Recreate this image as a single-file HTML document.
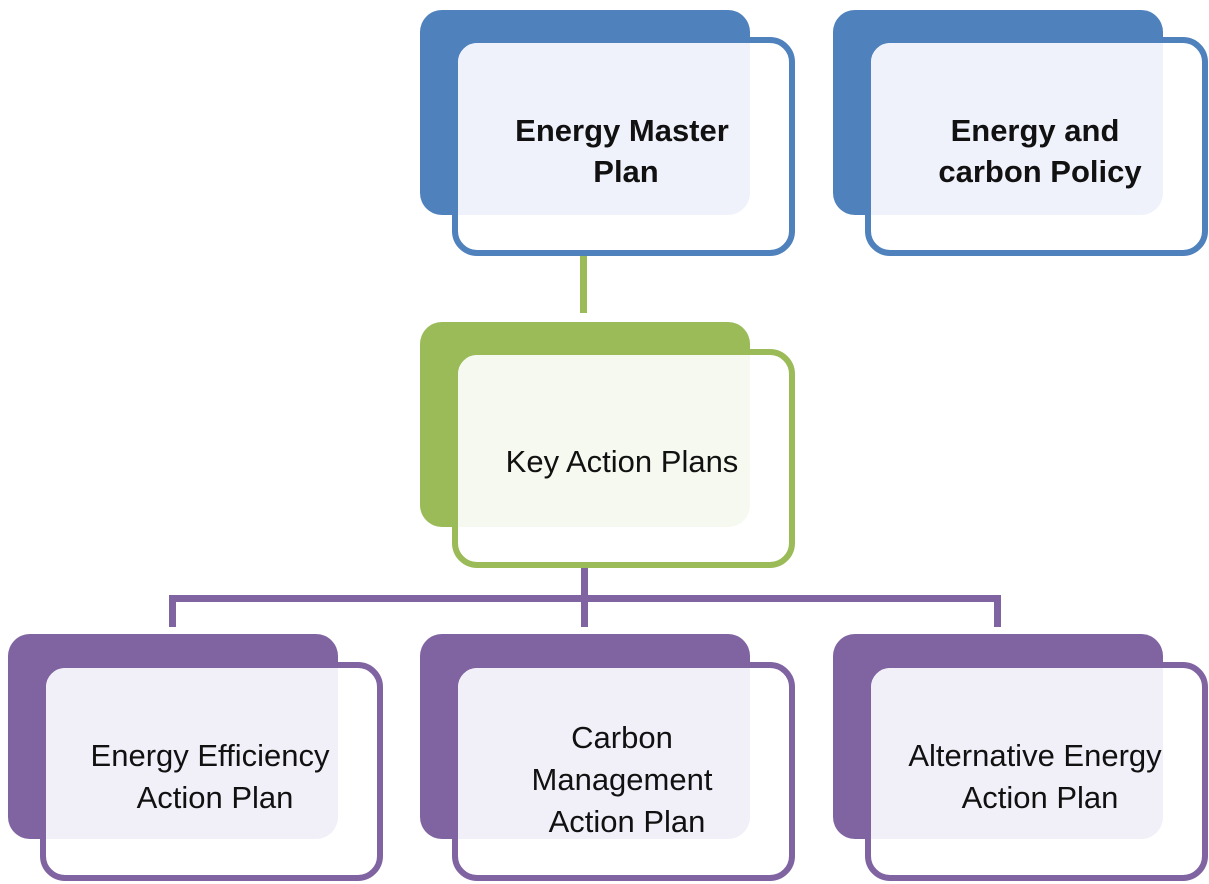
<!DOCTYPE html>
<html><head><meta charset="utf-8"><style>html,body{margin:0;padding:0;background:#fff}svg{display:block}</style></head><body>
<svg width="1209" height="884" viewBox="0 0 1209 884" xmlns="http://www.w3.org/2000/svg" font-family="Liberation Sans, Arial, sans-serif">
<!-- connectors -->
<rect x="580" y="225" width="7" height="28" fill="#f5f8ee"/>
<rect x="580" y="253" width="7" height="60" fill="#9bbb59"/>
<rect x="581" y="537" width="7" height="28" fill="#efecf5"/>
<rect x="581" y="565" width="7" height="62" fill="#8064a2"/>
<rect x="169" y="595" width="831" height="7" fill="#8064a2"/>
<rect x="169" y="595" width="7" height="32" fill="#8064a2"/>
<rect x="994" y="595" width="7" height="32" fill="#8064a2"/>

<!-- node template: back, front white+stroke, tint -->
<g id="n1">
<rect x="420" y="10" width="330" height="205" rx="22" fill="#4f81bd"/>
<rect x="455" y="40" width="337" height="213" rx="22" fill="#fff" stroke="#4f81bd" stroke-width="6"/>
<path d="M478 43 H750 V193 A22 22 0 0 1 728 215 H458 V63 A20 20 0 0 1 478 43 Z" fill="#eff2fb"/>
</g>
<g>
<rect x="833" y="10" width="330" height="205" rx="22" fill="#4f81bd"/>
<rect x="868" y="40" width="337" height="213" rx="22" fill="#fff" stroke="#4f81bd" stroke-width="6"/>
<path d="M891 43 H1163 V193 A22 22 0 0 1 1141 215 H871 V63 A20 20 0 0 1 891 43 Z" fill="#eff2fb"/>
</g>
<g>
<rect x="420" y="322" width="330" height="205" rx="22" fill="#9bbb59"/>
<rect x="455" y="352" width="337" height="213" rx="22" fill="#fff" stroke="#9bbb59" stroke-width="6"/>
<path d="M478 355 H750 V505 A22 22 0 0 1 728 527 H458 V375 A20 20 0 0 1 478 355 Z" fill="#f6f9f0"/>
</g>
<g>
<rect x="8" y="634" width="330" height="205" rx="22" fill="#8064a2"/>
<rect x="43" y="665" width="337" height="213" rx="22" fill="#fff" stroke="#8064a2" stroke-width="6"/>
<path d="M66 668 H338 V817 A22 22 0 0 1 316 839 H46 V688 A20 20 0 0 1 66 668 Z" fill="#f1eff8"/>
</g>
<g>
<rect x="420" y="634" width="330" height="205" rx="22" fill="#8064a2"/>
<rect x="455" y="665" width="337" height="213" rx="22" fill="#fff" stroke="#8064a2" stroke-width="6"/>
<path d="M478 668 H750 V817 A22 22 0 0 1 728 839 H458 V688 A20 20 0 0 1 478 668 Z" fill="#f1eff8"/>
</g>
<g>
<rect x="833" y="634" width="330" height="205" rx="22" fill="#8064a2"/>
<rect x="868" y="665" width="337" height="213" rx="22" fill="#fff" stroke="#8064a2" stroke-width="6"/>
<path d="M891 668 H1163 V817 A22 22 0 0 1 1141 839 H871 V688 A20 20 0 0 1 891 668 Z" fill="#f1eff8"/>
</g>

<g font-size="31" fill="#111" text-anchor="middle">
<g font-weight="bold">
<text x="622" y="141">Energy Master</text>
<text x="626" y="182">Plan</text>
<text x="1035" y="141">Energy and</text>
<text x="1040" y="182">carbon Policy</text>
</g>
<text x="622" y="472">Key Action Plans</text>
<text x="210" y="766">Energy Efficiency</text>
<text x="215" y="808">Action Plan</text>
<text x="622" y="748">Carbon</text>
<text x="622" y="790">Management</text>
<text x="627" y="832">Action Plan</text>
<text x="1035" y="766">Alternative Energy</text>
<text x="1040" y="808">Action Plan</text>
</g>
</svg>
</body></html>
